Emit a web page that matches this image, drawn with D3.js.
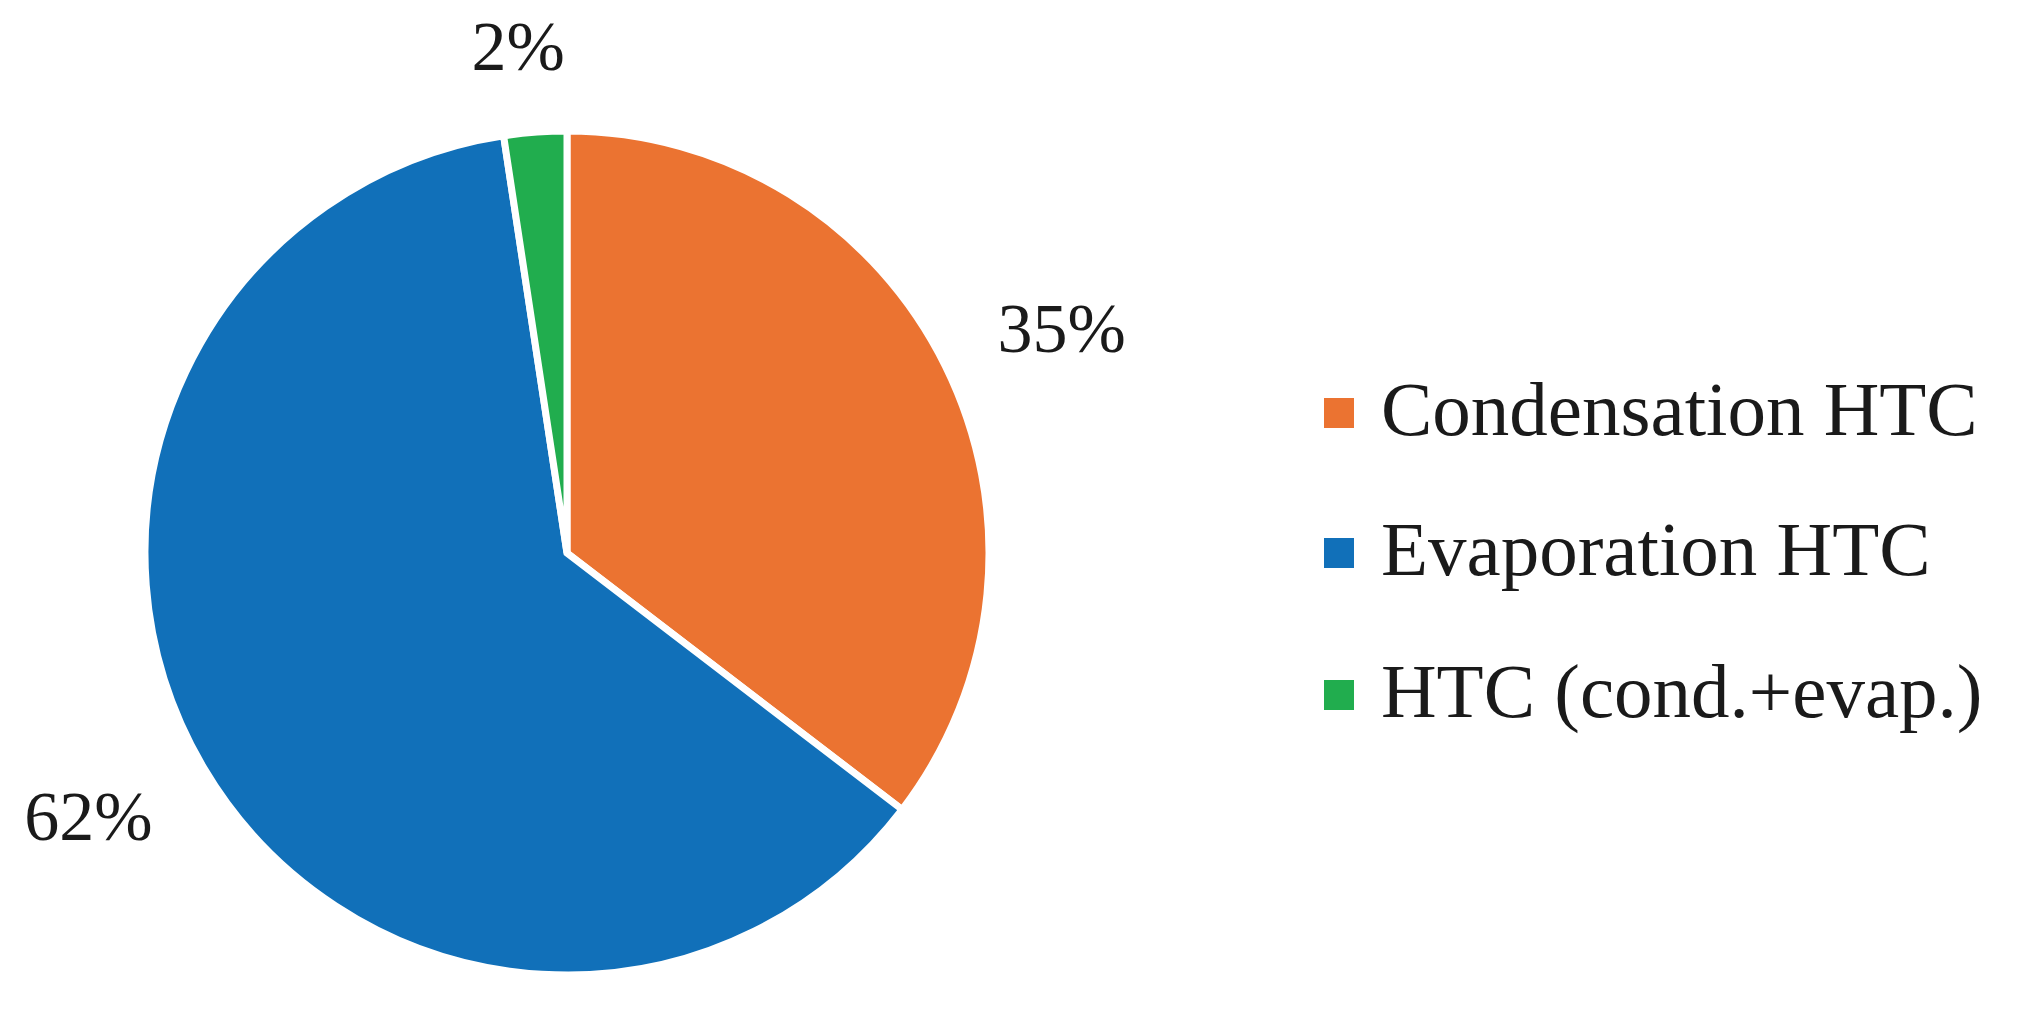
<!DOCTYPE html>
<html>
<head>
<meta charset="utf-8">
<script src="https://cdn.jsdelivr.net/npm/d3@7"></script>
<style>
  html, body { margin: 0; padding: 0; background: #ffffff; }
  svg { display: block; }
</style>
</head>
<body>
<svg id="chart" width="2026" height="1015"></svg>
<script>
// ---- data ----
const categories = ["Condensation HTC", "Evaporation HTC", "HTC (cond.+evap.)"];
const values = [35.4, 62.2, 2.4];
const labels = ["35%", "62%", "2%"];
const colors = ["#EB7331", "#1170B9", "#21AD4E"];

// ---- layout ----
const W = 2026, H = 1015;
const cx = 567, cy = 553, R = 422;
const labelFont = 70;
const legendFont = 77;

const svg = d3.select("#chart");
svg.append("rect").attr("width", W).attr("height", H).attr("fill", "#fff");

const g = svg.append("g").attr("transform", `translate(${cx},${cy})`);

const pie = d3.pie().sort(null).value(d => d.value);
const data = categories.map((c, i) => ({ name: c, value: values[i], label: labels[i], color: colors[i] }));
const arcs = pie(data);

const arc = d3.arc().innerRadius(0).outerRadius(R);

g.selectAll("path.slice")
  .data(arcs)
  .join("path")
  .attr("class", "slice")
  .attr("d", arc)
  .attr("fill", d => d.data.color)
  .attr("stroke", "#ffffff")
  .attr("stroke-width", 7)
  .attr("stroke-linejoin", "miter");

// labels outside, Excel "best fit" style
const labelDist = [61, 70, 61];
const labelNudgeX = [4, 0, -9];
const labelG = g.append("g")
  .attr("font-family", "'Liberation Serif', 'Times New Roman', serif")
  .attr("font-size", labelFont)
  .attr("fill", "#1a1a1a");

arcs.forEach((a, i) => {
  const mid = (a.startAngle + a.endAngle) / 2;
  const rr = R + labelDist[i];
  const px = Math.sin(mid) * rr, py = -Math.cos(mid) * rr;
  const t = labelG.append("text")
    .attr("text-anchor", "middle")
    .attr("dy", "0.34em")
    .text(a.data.label);
  const bb = t.node().getBBox();
  const w = bb.width, h = labelFont * 0.72;
  const x = px + Math.sin(mid) * w / 2 + labelNudgeX[i];
  const y = py - Math.cos(mid) * h / 2;
  t.attr("x", x).attr("y", y);
});

// ---- legend ----
const legend = svg.append("g").attr("transform", "translate(1324,0)");
const rowBaselines = [435, 575, 717];
const items = legend.selectAll("g.item")
  .data(data)
  .join("g")
  .attr("class", "item")
  .attr("transform", (d, i) => `translate(0,${rowBaselines[i]})`);

items.append("rect")
  .attr("x", 0)
  .attr("y", -37)
  .attr("width", 30)
  .attr("height", 30)
  .attr("fill", d => d.color);

items.append("text")
  .attr("x", 57)
  .attr("y", 0)
  .attr("font-family", "'Liberation Serif', 'Times New Roman', serif")
  .attr("font-size", legendFont)
  .attr("fill", "#1a1a1a")
  .text(d => d.name);
</script>
</body>
</html>
